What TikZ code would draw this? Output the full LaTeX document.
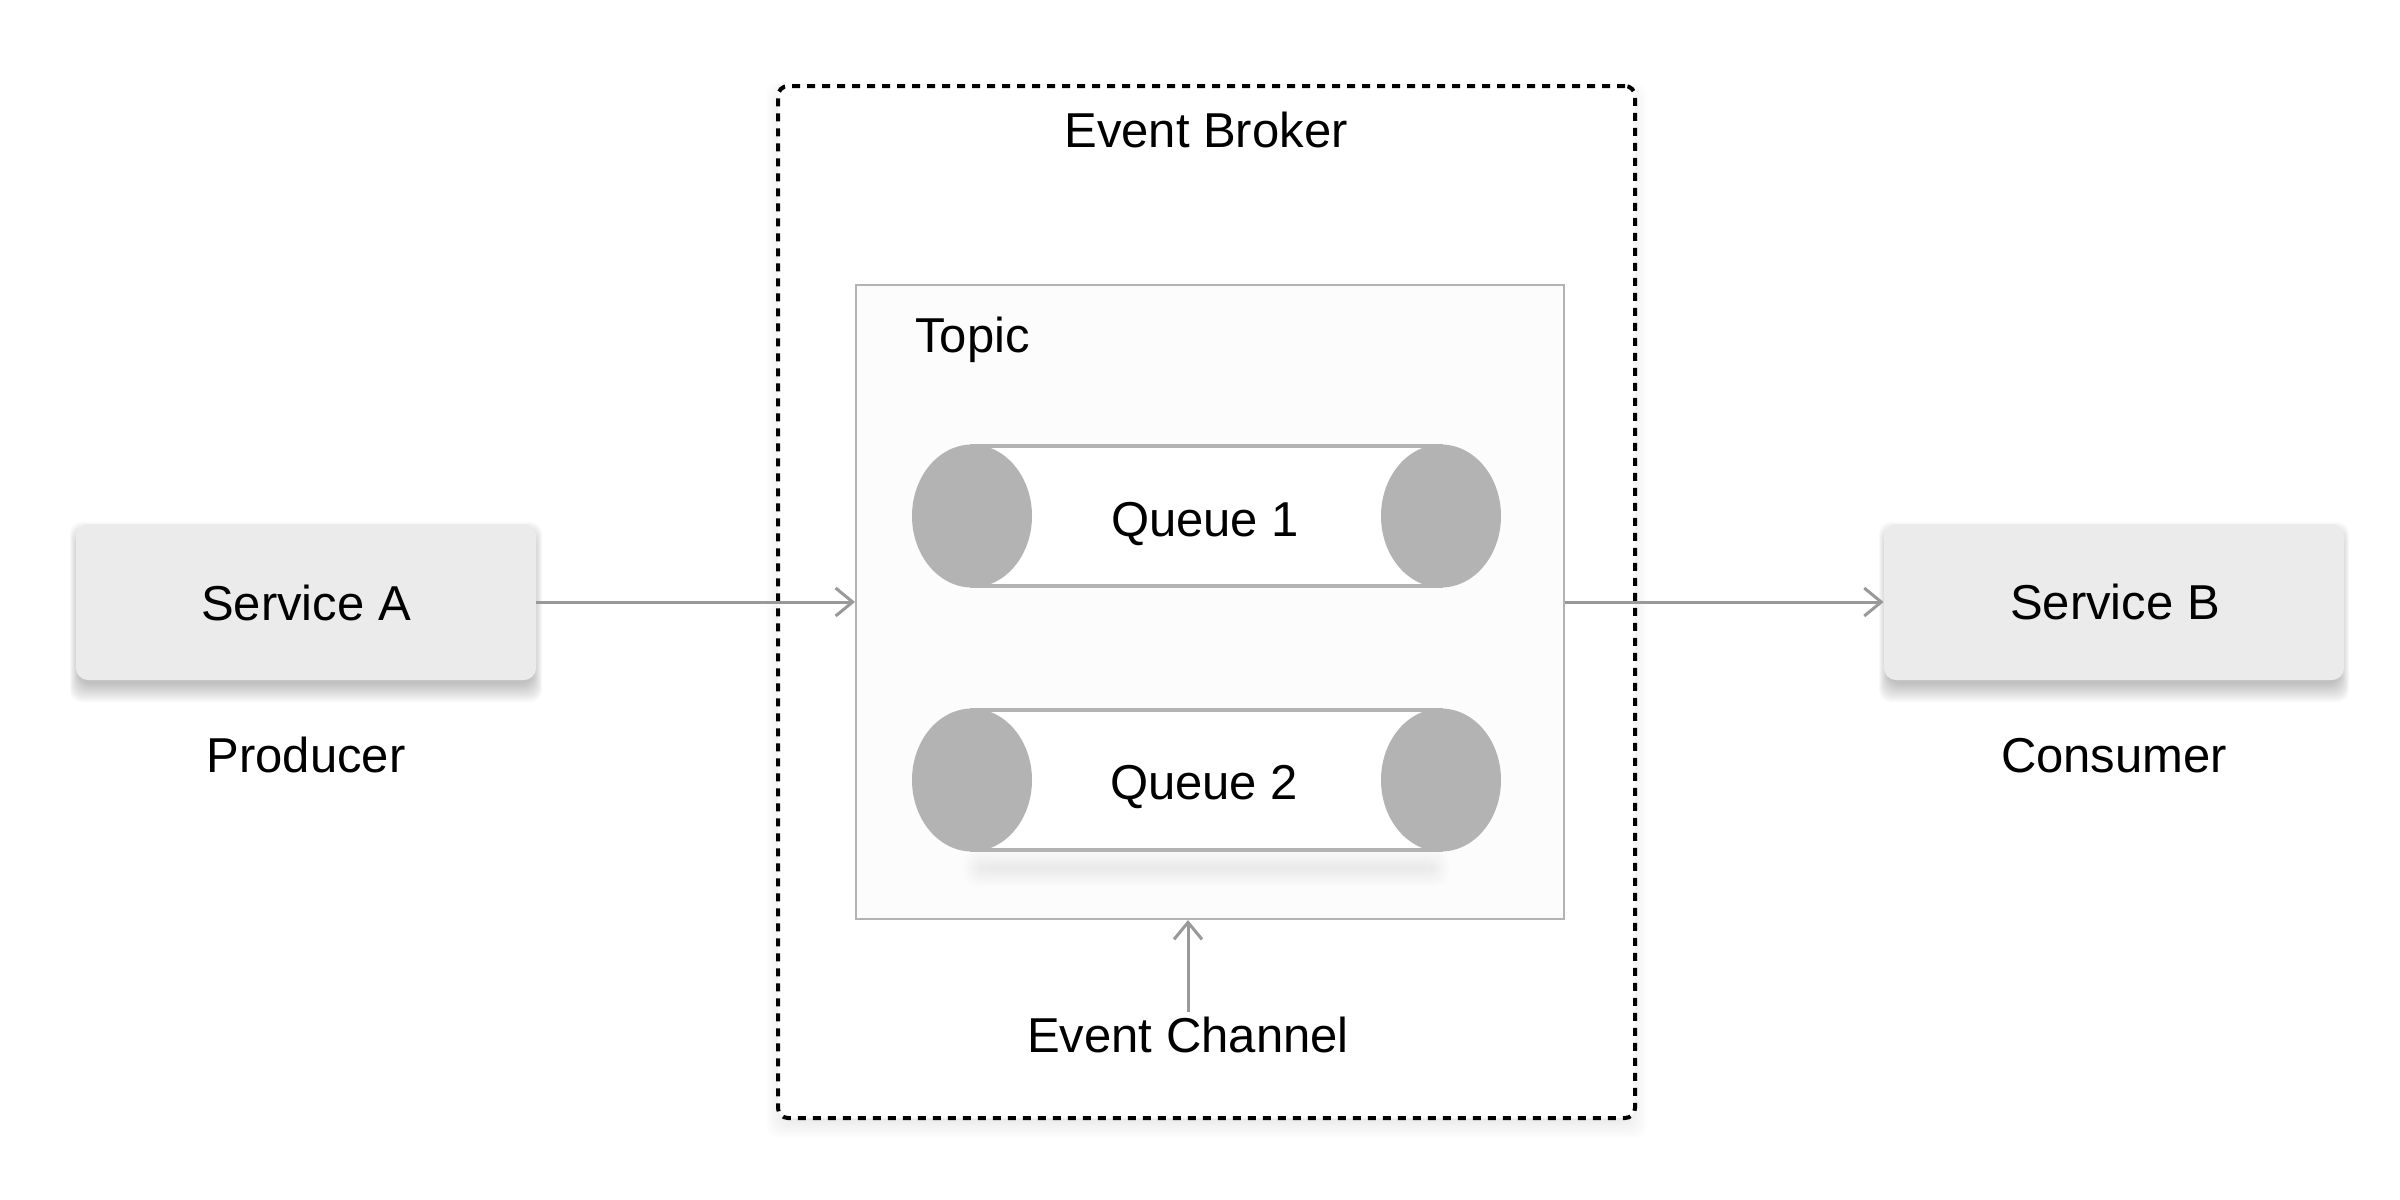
\documentclass[tikz,border=0pt]{standalone}
\usepackage{fontspec}
\setmainfont{Liberation Sans}
\usetikzlibrary{arrows.meta}
\definecolor{boxfill}{HTML}{ECEBEC}
\definecolor{arrowgray}{HTML}{999999}
\definecolor{topicline}{HTML}{B5B1B5}
\definecolor{topicfill}{HTML}{FCFCFC}
\definecolor{qgray}{HTML}{B3B3B3}
\begin{document}
\begin{tikzpicture}[x=0.5pt,y=-0.5pt,
  lbl/.style={font=\fontsize{24.5pt}{29pt}\selectfont, inner sep=0pt, anchor=base, text=black},
  svc/.style={fill=boxfill, rounded corners=6pt, minimum width=230pt, minimum height=78pt, inner sep=0pt},
  broker/.style={draw=black, dashed, dash pattern=on 4pt off 3.5pt, line width=2pt, rounded corners=5pt, minimum width=428.5pt, minimum height=516pt, inner sep=0pt},
  topicbox/.style={draw=topicline, fill=topicfill, line width=1pt, minimum width=354pt, minimum height=317pt, inner sep=0pt},
  arr/.style={draw=arrowgray, line width=1.5pt, -{Straight Barb[length=8.5pt,width=14pt]}},
  qbody/.style={fill=white, draw=qgray, line width=2pt},
  qcap/.style={fill=qgray},
  shade/.style={fill=black, opacity=0.026, rounded corners=6pt},
  faint/.style={fill=black, opacity=0.006, rounded corners=6pt},
  qshade/.style={fill=black, opacity=0.007, rounded corners=6pt}]
\useasboundingbox (0,0) rectangle (2400,1200);

% broker shadow
\foreach \e in {0,2,...,18}
  \path[faint] (778+6-\e, 94+6-\e) rectangle (1635-6+\e, 1126-6+\e);
\node[broker, fill=white] (broker) at (1206.5,602) {};
\node[lbl] (brokerlbl) at (1206,147) {Event Broker};

% topic
\node[topicbox] (topic) at (1210,602) {};
\node[lbl, anchor=base west] (topiclbl) at (915,352) {Topic};

% queue 2 shadow
\foreach \e in {0,2,...,16}
  \path[qshade] (972+8-\e, 862+4-\e) rectangle (1441-8+\e, 874-4+\e);

% queues
\foreach \yc in {516,780} {
  \filldraw[qbody] (972,\yc-70) rectangle (1441,\yc+70);
  \fill[qcap] (972,\yc) ellipse [x radius=30pt, y radius=35.75pt];
  \fill[qcap] (1441,\yc) ellipse [x radius=30pt, y radius=35.75pt];
}
\node[lbl] (q1) at (1205,536) {Queue 1};
\node[lbl] (q2) at (1204,799) {Queue 2};

% service shadows
\foreach \e in {0,2,...,18} {
  \path[shade] (76+3-\e/2, 534+6-\e) rectangle (536-3+\e/2, 690-6+\e);
  \path[shade] (1885+3-\e/2, 534+6-\e) rectangle (2343-3+\e/2, 690-6+\e);
}
\node[svc] (sa) at (306,602) {};
\node[svc] (sb) at (2114,602) {};
\node[lbl] (satxt) at (306,620) {Service A};
\node[lbl] (sbtxt) at (2115,619) {Service B};
\node[lbl] (prod) at (306,772) {Producer};
\node[lbl] (cons) at (2114,772) {Consumer};

% event channel
\node[lbl] (ec) at (1188,1052) {Event Channel};

% connectors
\draw[arr] (sa.east) -- (topic.west);
\draw[arr] (topic.east) -- (sb.west);
\draw[arr] ([yshift=2pt]ec.north) -- (ec.north |- topic.south);
\end{tikzpicture}
\end{document}
